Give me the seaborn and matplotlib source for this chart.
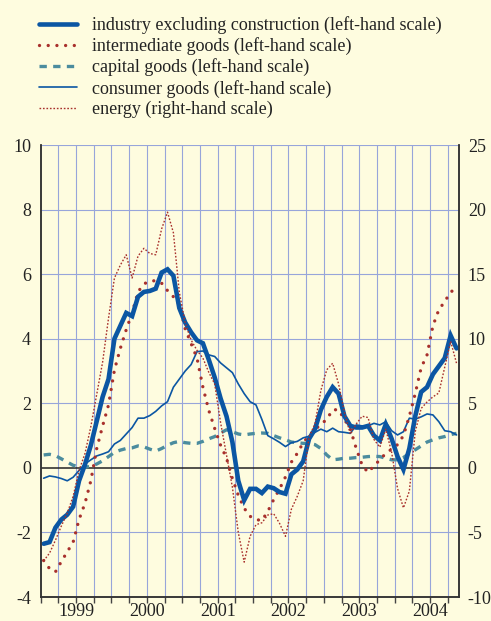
import numpy as np
import pandas as pd
import matplotlib
matplotlib.use('Agg')
import matplotlib.pyplot as plt
from matplotlib.lines import Line2D
import seaborn as sns

# monthly observations, Jan 1999 .. Nov 2004 (annual percentage changes)
months = pd.period_range('1999-01', '2004-11', freq='M')

industry = [-2.35, -2.3, -1.85, -1.6, -1.45, -1.2, -0.4, 0.1, 0.7, 1.45, 2.2, 2.75,
            4.0, 4.4, 4.8, 4.7, 5.3, 5.45, 5.48, 5.55, 6.05, 6.15, 5.95, 4.95,
            4.5, 4.2, 3.95, 3.86, 3.35, 2.8, 2.15, 1.6, 0.8, -0.4, -1.0, -0.65,
            -0.65, -0.78, -0.58, -0.63, -0.75, -0.8, -0.2, -0.05, 0.2, 0.9, 1.2, 1.8,
            2.2, 2.5, 2.3, 1.6, 1.3, 1.25, 1.25, 1.3, 1.0, 0.85, 1.35, 0.9,
            0.35, -0.05, 0.6, 1.6, 2.35, 2.5, 2.9, 3.15, 3.4, 4.1, 3.7]

intermediate = [-2.87, -3.12, -3.22, -2.9, -2.6, -2.3, -1.6, -1.1, -0.4, 0.6, 1.3, 1.95,
                3.03, 3.7, 4.28, 4.8, 5.45, 5.7, 5.78, 5.8, 5.72, 5.49, 5.3, 5.05,
                4.3, 3.85, 3.4, 2.5, 1.78, 1.22, 0.7, 0.3, -0.33, -0.85, -1.25, -1.5,
                -1.6, -1.63, -1.35, -0.98, -0.65, -0.28, 0.18, 0.45, 0.78, 1.0, 1.18, 1.35,
                1.5, 1.8, 1.8, 1.5, 1.2, 0.6, 0.08, -0.14, 0.06, 0.25, 0.45, 0.58,
                0.72, 1.0, 1.6, 2.3, 3.1, 3.5, 4.4, 4.9, 5.15, 5.45, 5.55]

capital = [0.4, 0.42, 0.38, 0.28, 0.18, 0.08, 0.03, 0.02, 0.05, 0.12, 0.22, 0.35,
           0.48, 0.55, 0.6, 0.62, 0.68, 0.65, 0.58, 0.52, 0.6, 0.7, 0.78, 0.82,
           0.78, 0.76, 0.76, 0.82, 0.9, 0.97, 1.08, 1.18, 1.12, 1.05, 1.02, 1.05,
           1.07, 1.08, 1.07, 1.0, 0.93, 0.87, 0.8, 0.78, 0.76, 0.76, 0.72, 0.6,
           0.4, 0.25, 0.27, 0.3, 0.3, 0.32, 0.33, 0.35, 0.36, 0.35, 0.3, 0.25,
           0.25, 0.32, 0.45, 0.56, 0.68, 0.8, 0.87, 0.93, 0.97, 1.03, 1.07]

consumer = [-0.32, -0.25, -0.28, -0.33, -0.4, -0.29, -0.08, 0.12, 0.25, 0.37, 0.43, 0.5,
            0.74, 0.85, 1.05, 1.25, 1.54, 1.54, 1.62, 1.75, 1.92, 2.05, 2.5, 2.75,
            3.0, 3.2, 3.6, 3.62, 3.5, 3.45, 3.25, 3.1, 2.95, 2.6, 2.3, 2.05,
            1.95, 1.5, 1.0, 0.9, 0.79, 0.66, 0.78, 0.82, 0.93, 0.98, 1.1, 1.2,
            1.12, 1.23, 1.12, 1.1, 1.07, 1.33, 1.3, 1.3, 1.38, 1.33, 1.43, 1.15,
            1.02, 1.12, 1.54, 1.51, 1.58, 1.67, 1.64, 1.43, 1.15, 1.12, 1.02]

energy = [-7.2, -6.6, -5.6, -4.5, -3.5, -2.2, -0.2, 1.1, 3.2, 5.7, 8.2, 11.6,
          14.7, 15.7, 16.5, 14.7, 16.4, 17.0, 16.6, 16.5, 18.5, 19.8, 18.2, 13.6,
          11.2, 9.9, 9.1, 8.5, 7.4, 6.5, 3.5, 1.0, -1.5, -5.0, -7.3, -5.3,
          -4.4, -4.25, -3.65, -3.55, -4.3, -5.3, -3.2, -2.2, -1.0, 2.4, 3.4, 6.0,
          7.6, 8.1, 6.5, 4.3, 2.6, 3.4, 4.0, 3.9, 2.2, 1.6, 3.0, 1.2,
          -1.6, -3.1, -1.8, 2.8, 4.6, 5.1, 5.5, 5.8, 7.8, 9.8, 8.1]

labels = ['industry excluding construction (left-hand scale)',
          'intermediate goods (left-hand scale)',
          'capital goods (left-hand scale)',
          'consumer goods (left-hand scale)',
          'energy (right-hand scale)']
years = ['1999', '2000', '2001', '2002', '2003', '2004']

df = pd.DataFrame({'t': np.arange(len(months)) + 0.5,
                   'industry': industry, 'intermediate': intermediate,
                   'capital': capital, 'consumer': consumer, 'energy': energy})

BG = '#fefcdf'
BLUE = '#0b56a3'
RED = '#a8302c'
TEAL = '#4b8c9e'
GRID = '#97a5da'
FS = 13

sns.set_theme(style='white')
plt.rcParams['font.family'] = ['Liberation Serif', 'DejaVu Serif']
plt.rcParams['font.size'] = FS
plt.rcParams['axes.unicode_minus'] = False

fig = plt.figure(figsize=(4.91, 6.21), dpi=100, facecolor=BG)
ax = fig.add_axes([0.0829, 0.0386, 0.8529, 0.7279])
ax.set_facecolor(BG)
ax2 = ax.twinx()

ax.set_xlim(0.3, 71.0)
ax.set_ylim(-4, 10)
ax2.set_ylim(-10, 25)

# grid
for q in range(3, 70, 3):
    ax.axvline(q, color=GRID, lw=0.8, zorder=0)
for v in [-2, 2, 4, 6, 8, 10]:
    ax.axhline(v, color=GRID, lw=0.8, zorder=0)
ax.axhline(0, color='#222222', lw=1.1, zorder=1)

styles = dict(
    intermediate=dict(color=RED, lw=2.4, linestyle=(0, (0.01, 2.6)), dash_capstyle='round'),
    capital=dict(color=TEAL, lw=2.4, linestyle=(0, (2.2, 1.9)), dash_capstyle='butt'),
    consumer=dict(color=BLUE, lw=1.2, linestyle='-'),
    industry=dict(color=BLUE, lw=3.3, linestyle='-', solid_joinstyle='miter'),
)
for name in ['capital', 'consumer', 'intermediate', 'industry']:
    sns.lineplot(data=df, x='t', y=name, ax=ax, zorder=3, **styles[name])
sns.lineplot(data=df, x='t', y='energy', ax=ax2, color=RED, lw=1.0,
             linestyle=(0, (1.2, 1.3)), zorder=3)
ax2.set_zorder(ax.get_zorder() + 1)
ax2.patch.set_visible(False)

# axes cosmetics
for a in (ax, ax2):
    a.set_xlabel('')
    a.set_ylabel('')
    a.spines['top'].set_visible(False)
    for s in ['left', 'right', 'bottom']:
        a.spines[s].set_color('#333333')
        a.spines[s].set_linewidth(1.1)
ax.set_yticks(range(-4, 11, 2))
ax.tick_params(axis='y', length=0, pad=7, labelsize=FS, colors='#222222')
ax2.set_yticks(range(-10, 26, 5))
ax2.tick_params(axis='y', length=0, pad=6, labelsize=FS, colors='#222222')

# quarter tick marks; year labels centred in each year
ax.set_xticks(range(0, 72, 3))
ax.set_xticklabels([])
ax.tick_params(axis='x', which='major', direction='out', length=4, width=1,
               color='#444444', bottom=True)
ax.set_xticks([6.01 + 12 * i for i in range(len(years))], minor=True)
ax.set_xticklabels(years, minor=True)
ax.tick_params(axis='x', which='minor', length=0, pad=4, labelsize=FS, colors='#222222')

# legend
handles = [Line2D([], [], **styles['industry']),
           Line2D([], [], **styles['intermediate']),
           Line2D([], [], **styles['capital']),
           Line2D([], [], **styles['consumer']),
           Line2D([], [], color=RED, lw=1.0, linestyle=(0, (1.2, 1.3)))]
fig.legend(handles, labels, loc='upper left', bbox_to_anchor=(39 / 491, 1 - 16 / 621),
           frameon=False, borderpad=0, borderaxespad=0, handlelength=2.1,
           handletextpad=0.85, labelspacing=0.18, fontsize=FS,
           labelcolor='#222222')

fig.savefig('out.png', dpi=100, facecolor=BG)
